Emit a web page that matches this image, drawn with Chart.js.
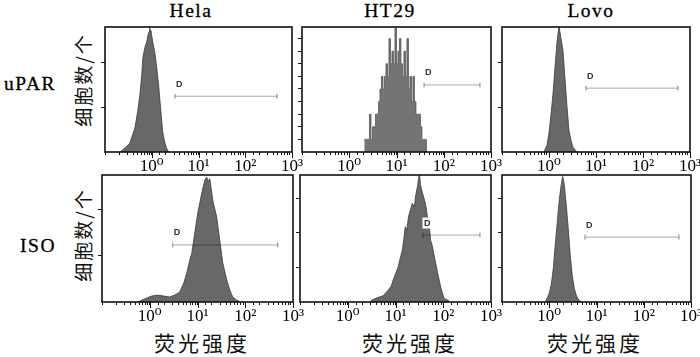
<!DOCTYPE html>
<html><head><meta charset="utf-8">
<script src="https://cdn.jsdelivr.net/npm/chart.js@4.4.1/dist/chart.umd.min.js"></script>
<style>
html,body{margin:0;padding:0;background:#fff;}
#wrap{position:relative;width:700px;height:357px;overflow:hidden;background:#fff;}
canvas{position:absolute;}
.lbl{position:absolute;white-space:nowrap;color:#000;line-height:1;}
.col{font-family:"Liberation Serif","Times New Roman",serif;font-size:19.5px;letter-spacing:1.5px;transform:translateX(-50%);-webkit-text-stroke:0.3px #000;}
.row{font-family:"Liberation Serif","Times New Roman",serif;font-size:19.5px;letter-spacing:1.5px;text-align:right;-webkit-text-stroke:0.3px #000;}
.yt{font-family:"Noto Sans CJK SC",sans-serif;font-size:19px;letter-spacing:2px;transform:translate(-50%,-50%) rotate(-90deg);color:#111;}
.xt{font-family:"Noto Sans CJK SC",sans-serif;font-size:21px;letter-spacing:3px;transform:translate(-50%,-50%);color:#111;}
</style></head><body><div id="wrap"></div>
<script>
// ---------- DATA ----------
const cellLines = ['Hela', 'HT29', 'Lovo'];
const rowLabels = ['uPAR', 'ISO'];
const yTitle = '细胞数/个';
const xTitle = '荧光强度';
const tickExps = [0, 1, 2, 3];
const gateName = 'D';

// fluorescence intensity (x) and cell counts (y)
const helaUparX = [0.21, 0.27, 0.34, 0.435, 0.50, 0.556, 0.61, 0.645, 0.71, 0.78, 0.84, 0.88, 0.905, 0.93, 0.96, 1.05, 1.16, 1.28, 1.40, 1.48, 1.60, 1.71, 1.89, 2.09, 2.29];
const helaUparY = [0, 9, 20, 53, 90, 127, 170, 209, 232, 245, 262, 268, 280, 266, 270, 245, 222, 187, 150, 120, 80, 45, 22, 8, 0];

const ht29UparX = [2.08, 2.23, 2.40, 2.58, 2.78, 2.99, 3.22, 3.46, 3.72, 4.01, 4.31, 4.63, 4.99, 5.36, 5.77, 6.21, 6.68, 7.18, 7.73, 8.31, 8.94, 9.62, 10.35, 11.13, 11.97, 12.88, 13.86, 14.91, 16.04, 17.26, 18.57, 19.98, 21.5, 23.1, 24.9, 26.8, 28.8, 30.9, 33.3, 35.8, 38.5, 41.4, 44.6];
const ht29UparY = [1, 1, 1, 1, 3, 1, 2, 2, 3, 3, 4, 5, 6, 5, 6, 7, 6, 9, 7, 8, 7, 10, 7, 8, 9, 7, 6, 8, 6, 9, 5, 6, 4, 6, 4, 3, 3, 3, 2, 1, 1, 1, 0];

const lovoUparX = [0.78, 0.91, 1.0, 1.10, 1.22, 1.34, 1.48, 1.63, 1.79, 1.98, 2.18, 2.40, 2.65, 2.92, 3.22, 3.9];
const lovoUparY = [0, 16, 42, 82, 131, 187, 245, 280, 254, 227, 165, 105, 49, 27, 11, 0];

const helaIsoX = [0.56, 0.79, 1.10, 1.47, 1.96, 2.62, 3.34, 4.25, 5.15, 5.96, 6.88, 7.58, 8.76, 10.1, 12.3, 14.2, 15.6, 16.8, 18.1, 20.9, 25.3, 29.2, 33.8, 41.0, 47.4, 54.7, 66.4, 80.5];
const helaIsoY = [0, 7, 13, 15, 13, 11, 15, 22, 41, 63, 91, 106, 150, 193, 237, 265, 271, 262, 268, 221, 184, 135, 85, 48, 26, 11, 4, 0];

const ht29IsoX = [2.92, 3.22, 4.10, 5.50, 7.01, 8.11, 8.94, 10.3, 11.4, 12.6, 13.9, 15.3, 16.0, 17.3, 18.6, 20.5, 22.5, 24.9, 26.1, 28.8, 30.2, 31.7, 33.3, 36.7, 40.4, 43.5, 46.8, 51.5, 54.2, 59.7, 62.7, 69.1, 76.2, 83.9, 88.1, 97.1, 102, 112, 124, 136];
const ht29IsoY = [0, 3, 6, 9, 17, 23, 32, 43, 51, 64, 75, 97, 109, 104, 123, 133, 143, 138, 152, 167, 177, 186, 170, 158, 148, 138, 123, 107, 90, 80, 71, 57, 42, 29, 22, 12, 7, 4, 3, 0];

const lovoIsoX = [0.82, 0.91, 1.0, 1.10, 1.22, 1.34, 1.48, 1.63, 1.79, 1.93, 2.08, 2.29, 2.52, 2.78, 3.06, 3.38, 3.72, 4.10, 4.75];
const lovoIsoY = [0, 6, 13, 25, 49, 83, 116, 148, 170, 182, 170, 141, 107, 68, 39, 20, 10, 4, 0];

// gate "D": low / high intensity and its drawing level (count units), per panel
const gateLow   = [3.14, 38.2, 6.1, 3.03, 37.7, 5.7];
const gateHigh  = [478, 585, 556, 480, 588, 557];
const gateLevel = [124, 5.32, 142, 124, 97, 94];

// y-axis ranges (counts) and tick steps per panel
const yMaxes = [278, 9.92, 278, 276, 184, 184];
const ySteps = [100, 1, 100, 100, 50, 50];

// ---------- LAYOUT ----------
const boxes = [
  {x:105, y:27, w:187, h:125}, {x:302, y:27, w:189, h:125}, {x:502, y:27, w:188, h:125},
  {x:102, y:175, w:191, h:127}, {x:300, y:175, w:191, h:127}, {x:502, y:175, w:189, h:127}
];
const series = [[helaUparX, helaUparY], [ht29UparX, ht29UparY], [lovoUparX, lovoUparY],
                [helaIsoX, helaIsoY], [ht29IsoX, ht29IsoY], [lovoIsoX, lovoIsoY]];
const SUP = ['⁰', '¹', '²', '³'];
const wrap = document.getElementById('wrap');

function addLabel(cls, text, style) {
  const d = document.createElement('div');
  d.className = 'lbl ' + cls; d.textContent = text;
  Object.assign(d.style, style); wrap.appendChild(d);
}
const colCenters = [191, 390, 591];
cellLines.forEach((t, i) => addLabel('col', t, {left: colCenters[i] + 'px', top: '1px'}));
const rowTops = [74, 236];
rowLabels.forEach((t, i) => addLabel('row', t, {right: (700 - 56) + 'px', top: rowTops[i] + 'px'}));
[80, 235].forEach(cy => addLabel('yt', yTitle, {left: '82px', top: cy + 'px'}));
[202, 410, 595].forEach(cx => addLabel('xt', xTitle, {left: cx + 'px', top: '342px'}));

const framePlugin = {
  id: 'frame',
  afterDatasetsDraw(chart) {
    const a = chart.chartArea, ctx = chart.ctx, xs = chart.scales.x, ys = chart.scales.y;
    ctx.save();
    // gate label
    const g = chart.options.plugins.frame;
    const gx = xs.getPixelForValue(g.low) + 1, gy = ys.getPixelForValue(g.level) - 12;
    ctx.font = 'bold 9px "Liberation Sans", Arial, sans-serif';
    ctx.textBaseline = 'middle'; ctx.textAlign = 'left';
    const tw = ctx.measureText(gateName).width;
    ctx.fillStyle = '#fff'; ctx.fillRect(gx - 1.5, gy - 5.5, tw + 3, 11);
    ctx.fillStyle = '#333'; ctx.fillText(gateName, gx, gy);
    // box
    ctx.strokeStyle = '#111'; ctx.lineWidth = 1.6;
    ctx.strokeRect(a.left, a.top, a.right - a.left, a.bottom - a.top);
    // longer major ticks
    ctx.lineWidth = 1;
    tickExps.forEach(e => {
      const px = Math.round(xs.getPixelForValue(Math.pow(10, e))) + 0.5;
      ctx.beginPath(); ctx.moveTo(px, a.bottom); ctx.lineTo(px, a.bottom + 6); ctx.stroke();
    });
    ctx.restore();
  }
};

boxes.forEach((b, i) => {
  const c = document.createElement('canvas');
  const W = b.w + 10 + 18, H = b.h + 5 + 28;
  c.width = W; c.height = H;
  c.style.left = (b.x - 10) + 'px'; c.style.top = (b.y - 5) + 'px';
  c.style.width = W + 'px'; c.style.height = H + 'px';
  wrap.appendChild(c);
  const [xs, ys] = series[i];
  const spiky = (i === 1);
  new Chart(c.getContext('2d'), {
    type: 'line',
    data: {
      datasets: [
        {
          data: xs.map((x, k) => ({x, y: ys[k]})),
          fill: 'origin',
          backgroundColor: spiky ? '#747474' : '#686868',
          borderColor: spiky ? '#555' : '#3a3a3a',
          borderWidth: 0.8,
          pointRadius: 0, tension: 0,
          stepped: spiky ? 'middle' : false,
          order: 2
        },
        {
          data: [{x: gateLow[i], y: gateLevel[i]}, {x: gateHigh[i], y: gateLevel[i]}],
          borderColor: 'rgba(0,0,0,0.35)', borderWidth: 1,
          pointStyle: 'line', rotation: 90, pointRadius: 2.5,
          pointBorderColor: 'rgba(0,0,0,0.45)', pointBorderWidth: 1,
          fill: false, order: 1
        }
      ]
    },
    options: {
      responsive: false, animation: false, events: [],
      layout: {padding: {left: 4, top: 5, right: 18, bottom: 0}},
      plugins: {legend: {display: false}, tooltip: {enabled: false},
                frame: {low: gateLow[i], level: gateLevel[i]}},
      scales: {
        x: {
          type: 'logarithmic', min: 0.1, max: 1000,
          border: {display: false},
          grid: {drawOnChartArea: false, drawTicks: true, tickLength: 3, tickColor: '#111', tickWidth: 1},
          ticks: {
            autoSkip: false, maxRotation: 0, minRotation: 0, padding: 1,
            color: '#000', font: {family: '"Liberation Serif", "DejaVu Serif", serif', size: 17},
            callback(v) {
              const l = Math.log10(v), r = Math.round(l);
              return (Math.abs(l - r) < 1e-6 && tickExps.includes(r)) ? '10' + SUP[r] : '';
            }
          },
          afterFit(s) { s.height = 28; }
        },
        y: {
          type: 'linear', min: 0, max: yMaxes[i],
          border: {display: false},
          grid: {drawOnChartArea: false, drawTicks: true, tickLength: 4, tickWidth: 1,
                 tickColor: ctx => (ctx.tick && ctx.tick.value === 0) ? 'rgba(0,0,0,0)' : '#111'},
          ticks: {display: false, stepSize: ySteps[i], includeBounds: false},
          afterFit(s) { s.width = 6; }
        }
      }
    },
    plugins: [framePlugin]
  });
});
</script></body></html>
